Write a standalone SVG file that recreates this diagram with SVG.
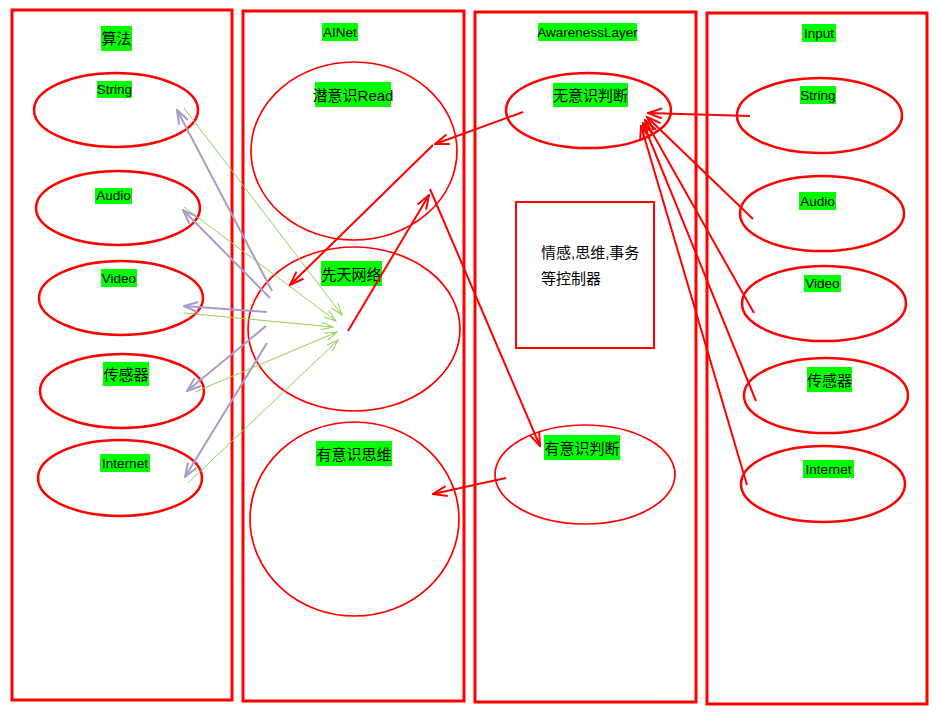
<svg xmlns="http://www.w3.org/2000/svg" width="938" height="715" viewBox="0 0 938 715">
<style>
.col{fill:none;stroke:#ff0000;stroke-width:3}
.ell{fill:none;stroke:#ff0000;stroke-width:2.5}
.ellt{fill:none;stroke:#ff0000;stroke-width:1.7}
.bg{fill:#00ff00}
.en{font-family:"Liberation Sans",Arial,sans-serif;font-size:13.5px;fill:#000;text-anchor:middle}
.zh{font-family:"Liberation Sans","Noto Sans CJK SC",sans-serif;font-size:15px;fill:#000;text-anchor:middle}
.zl{font-family:"Liberation Sans","Noto Sans CJK SC",sans-serif;font-size:15px;fill:#000}
.pu{stroke:#a99bc9;stroke-width:2;fill:none;marker-end:url(#mp)}
.gr{stroke:#92d050;stroke-width:1;fill:none;marker-end:url(#mg)}
.rd{stroke:#ff0000;stroke-width:2;fill:none;marker-end:url(#mr)}
</style>
<defs>
<marker id="mp" markerUnits="userSpaceOnUse" viewBox="0 0 16 12" markerWidth="16" markerHeight="12" refX="15" refY="6" orient="auto"><path d="M1,1 L15,6 L1,11" fill="none" stroke="#a99bc9" stroke-width="2"/></marker>
<marker id="mg" markerUnits="userSpaceOnUse" viewBox="0 0 14 10" markerWidth="14" markerHeight="10" refX="13" refY="5" orient="auto"><path d="M1,1 L13,5 L1,9" fill="none" stroke="#92d050" stroke-width="1"/></marker>
<marker id="mr" markerUnits="userSpaceOnUse" viewBox="0 0 16 12" markerWidth="16" markerHeight="12" refX="15" refY="6" orient="auto"><path d="M1,1 L15,6 L1,11" fill="none" stroke="#ff0000" stroke-width="2"/></marker>
</defs>
<rect width="938" height="715" fill="#fff"/>

<g id="col-algo">
<rect class="col" x="12" y="10" width="220" height="690"/>
<rect class="bg" x="101" y="26" width="31" height="25"/>
<text class="zh" x="116.5" y="44">算法</text>
</g>
<g id="col-ainet">
<rect class="col" x="243" y="11" width="221" height="690"/>
<rect class="bg" x="322" y="23" width="36" height="18"/>
<text class="en" x="340" y="37">AINet</text>
</g>
<g id="col-awareness">
<rect class="col" x="475" y="12" width="221" height="690"/>
<rect class="bg" x="538" y="23" width="99" height="18"/>
<text class="en" x="587.5" y="37">AwarenessLayer</text>
</g>
<g id="col-input">
<rect class="col" x="707" y="13" width="220" height="691"/>
<rect class="bg" x="802" y="24" width="34" height="18"/>
<text class="en" x="819" y="38">Input</text>
</g>

<g id="a-string">
<ellipse class="ell" cx="116" cy="110" rx="82" ry="37"/>
<rect class="bg" x="97" y="81" width="35" height="17"/>
<text class="en" x="114.5" y="94">String</text>
</g>
<g id="a-audio">
<ellipse class="ell" cx="118" cy="208" rx="82" ry="37"/>
<rect class="bg" x="95" y="188" width="37" height="16"/>
<text class="en" x="113.5" y="200">Audio</text>
</g>
<g id="a-video">
<ellipse class="ell" cx="121" cy="298" rx="82" ry="37"/>
<rect class="bg" x="101" y="269" width="36" height="18"/>
<text class="en" x="119" y="283">Video</text>
</g>
<g id="a-sensor">
<ellipse class="ell" cx="122" cy="391" rx="82" ry="37"/>
<rect class="bg" x="103" y="362" width="46" height="24"/>
<text class="zh" x="126" y="380">传感器</text>
</g>
<g id="a-internet">
<ellipse class="ell" cx="120" cy="478" rx="82" ry="38"/>
<rect class="bg" x="100" y="454" width="50" height="18"/>
<text class="en" x="125" y="468">Internet</text>
</g>

<g id="n-subconscious">
<ellipse class="ellt" cx="354" cy="151" rx="103" ry="89"/>
<rect class="bg" x="315" y="82" width="76" height="25"/>
<text class="zh" x="353" y="101">潜意识Read</text>
</g>
<g id="n-innate">
<ellipse class="ellt" cx="354" cy="329" rx="106" ry="82"/>
<rect class="bg" x="321" y="261" width="61" height="25"/>
<text class="zh" x="351.5" y="280">先天网络</text>
</g>
<g id="n-conscious-thought">
<ellipse class="ellt" cx="354.5" cy="519" rx="104.5" ry="97"/>
<rect class="bg" x="316" y="441" width="76" height="25"/>
<text class="zh" x="354" y="460">有意识思维</text>
</g>

<g id="w-unconscious">
<ellipse class="ell" cx="588.5" cy="110.5" rx="82.5" ry="37.5"/>
<rect class="bg" x="553" y="83" width="75" height="24"/>
<text class="zh" x="590.5" y="101">无意识判断</text>
</g>
<g id="w-controller">
<rect fill="none" stroke="#ff0000" stroke-width="2" x="516" y="202" width="138" height="146"/>
<text class="zl" x="541" y="258">情感,思维,事务</text>
<text class="zl" x="541" y="284">等控制器</text>
</g>
<g id="w-conscious">
<ellipse class="ellt" cx="585" cy="474.5" rx="90" ry="49.5"/>
<rect class="bg" x="544" y="435" width="76" height="25"/>
<text class="zh" x="582" y="454">有意识判断</text>
</g>

<g id="i-string">
<ellipse class="ell" cx="819.5" cy="115.5" rx="82.5" ry="37.5"/>
<rect class="bg" x="800" y="86" width="36" height="18"/>
<text class="en" x="818" y="100">String</text>
</g>
<g id="i-audio">
<ellipse class="ell" cx="822" cy="213.5" rx="82" ry="37.5"/>
<rect class="bg" x="799" y="192" width="37" height="18"/>
<text class="en" x="817.5" y="206">Audio</text>
</g>
<g id="i-video">
<ellipse class="ell" cx="824" cy="303.5" rx="82" ry="37.5"/>
<rect class="bg" x="804" y="275" width="37" height="17"/>
<text class="en" x="822.5" y="288">Video</text>
</g>
<g id="i-sensor">
<ellipse class="ell" cx="826" cy="395.5" rx="82" ry="37.5"/>
<rect class="bg" x="807" y="367" width="45" height="25"/>
<text class="zh" x="829.5" y="386">传感器</text>
</g>
<g id="i-internet">
<ellipse class="ell" cx="823" cy="484" rx="82" ry="38"/>
<rect class="bg" x="803" y="460" width="51" height="18"/>
<text class="en" x="828.5" y="474">Internet</text>
</g>

<g id="connectors">
<line class="pu" x1="272" y1="291" x2="177" y2="110"/>
<line class="pu" x1="270" y1="298" x2="183" y2="210"/>
<line class="pu" x1="267" y1="312" x2="184" y2="306"/>
<line class="pu" x1="266" y1="326" x2="187" y2="391"/>
<line class="pu" x1="267" y1="343" x2="185" y2="477"/>
<line class="gr" x1="184" y1="108" x2="342" y2="315"/>
<line class="gr" x1="184" y1="207" x2="336" y2="321"/>
<line class="gr" x1="184" y1="313" x2="333" y2="327"/>
<line class="gr" x1="195" y1="392" x2="337" y2="332"/>
<line class="gr" x1="188" y1="483" x2="338" y2="340"/>
<line class="rd" x1="523" y1="112" x2="435" y2="144"/>
<line class="rd" x1="433" y1="145" x2="290" y2="285"/>
<line class="rd" x1="348" y1="331" x2="429" y2="195"/>
<line class="rd" x1="430" y1="189" x2="540" y2="446"/>
<line class="rd" x1="506" y1="478" x2="433" y2="494"/>
<line class="rd" x1="750" y1="116" x2="648" y2="113"/>
<line class="rd" x1="753" y1="219" x2="647" y2="117"/>
<line class="rd" x1="754" y1="313" x2="645" y2="120"/>
<line class="rd" x1="756" y1="401" x2="643" y2="123"/>
<line class="rd" x1="747" y1="485" x2="641" y2="126"/>
</g>
</svg>
